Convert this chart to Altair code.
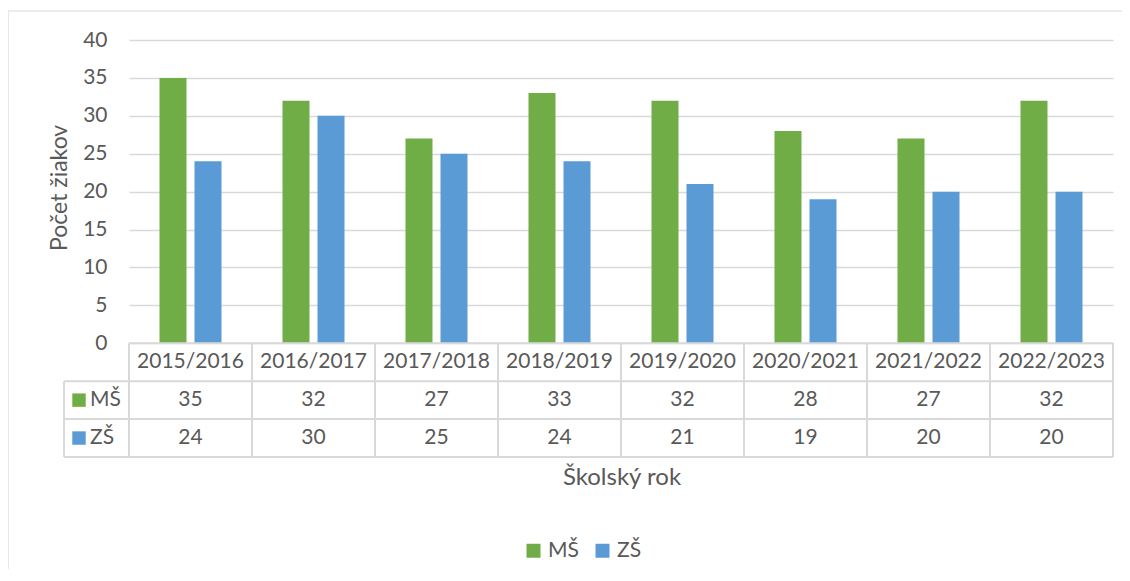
import altair as alt
import pandas as pd

years = ["2015/2016", "2016/2017", "2017/2018", "2018/2019",
         "2019/2020", "2020/2021", "2021/2022", "2022/2023"]
ms = [35, 32, 27, 33, 32, 28, 27, 32]
zs = [24, 30, 25, 24, 21, 19, 20, 20]
series = ["MŠ", "ZŠ"]
colors = ["#70AD47", "#5B9BD5"]
row_centers = [-7.5, -12.5]
y_ticks = [0, 5, 10, 15, 20, 25, 30, 35, 40]

rows = []
for i, yr in enumerate(years):
    rows.append({"year": yr, "series": "MŠ", "value": ms[i], "row": row_centers[0]})
    rows.append({"year": yr, "series": "ZŠ", "value": zs[i], "row": row_centers[1]})
df = pd.DataFrame(rows)
years_df = pd.DataFrame({"year": years})
series_df = pd.DataFrame({"series": series, "row": row_centers})
one = pd.DataFrame({"a": [0]})

W, H = 984, 417
TXT = "#595959"
GRID = "#D9D9D9"
FONT = "Lato"

xscale = alt.Scale(domain=years, paddingInner=0, paddingOuter=0)
yscale = alt.Scale(domain=[-15, 40], nice=False, zero=False)
cscale = alt.Scale(domain=series, range=colors)
yaxis = alt.Axis(values=y_ticks, grid=True, gridColor=GRID, gridWidth=1.5,
                 domain=False, ticks=False, labelPadding=22, labelFontSize=21,
                 labelColor=TXT, labelFont=FONT, title=None, orient="left")

def yd(v):
    return alt.YDatum(v, scale=yscale, axis=yaxis)

def y2d(v):
    return alt.Y2Datum(v)

def yf(f):
    return alt.Y(f, scale=yscale, axis=yaxis)

border = alt.Chart(one).mark_rect(fillOpacity=0, stroke=GRID, strokeWidth=1.2).encode(
    x=alt.value(-121), x2=alt.value(1100), y=alt.value(-29), y2=alt.value(700))

bars = alt.Chart(df).mark_bar().encode(
    x=alt.X("year:N", scale=xscale, axis=None, sort=years),
    xOffset=alt.XOffset("series:N", scale=alt.Scale(domain=series, paddingInner=0.2286, paddingOuter=0.871)),
    y=yf("value:Q"),
    y2=y2d(0),
    color=alt.Color("series:N", scale=cscale,
                    legend=alt.Legend(orient="none", legendX=394, legendY=500,
                                      direction="horizontal", title=None,
                                      symbolType="square", symbolSize=196,
                                      symbolStrokeWidth=0,
                                      labelFontSize=21, labelColor=TXT, labelFont=FONT,
                                      columnPadding=13)),
)

vl0 = alt.Chart(years_df).mark_rule(color=GRID, strokeWidth=2).encode(
    x=alt.X("year:N", scale=xscale, axis=None, bandPosition=0),
    y=yd(0), y2=y2d(-15))
vl1 = alt.Chart(years_df).mark_rule(color=GRID, strokeWidth=2).encode(
    x=alt.X("year:N", scale=xscale, axis=None, bandPosition=1),
    y=yd(0), y2=y2d(-15))

hl = [
    alt.Chart(one).mark_rule(color=GRID, strokeWidth=2).encode(
        x=alt.value(-65), x2=alt.value(W), y=yd(v))
    for v in (-5, -10, -15)
]
hl_top = alt.Chart(one).mark_rule(color=GRID, strokeWidth=2).encode(
    x=alt.value(0), x2=alt.value(W), y=yd(0))
vl_head = alt.Chart(one).mark_rule(color=GRID, strokeWidth=2).encode(
    x=alt.value(-65), y=yd(-5), y2=y2d(-15))

year_txt = alt.Chart(years_df).mark_text(fontSize=21, font=FONT, color=TXT, baseline="middle").encode(
    x=alt.X("year:N", scale=xscale, axis=None), y=yd(-2.5), text="year:N")

val_txt = alt.Chart(df).mark_text(fontSize=21, font=FONT, color=TXT, baseline="middle").encode(
    x=alt.X("year:N", scale=xscale, axis=None),
    y=yf("row:Q"), text="value:Q")

head_sq = alt.Chart(series_df).mark_square(size=180, opacity=1).encode(
    x=alt.value(-50), y=yf("row:Q"),
    color=alt.Color("series:N", scale=cscale))
head_txt = alt.Chart(series_df).mark_text(fontSize=21, font=FONT, color=TXT, align="left", baseline="middle").encode(
    x=alt.value(-39), y=yf("row:Q"), text="series:N")

ytitle = alt.Chart(one).mark_text(text="Počet žiakov", angle=270, fontSize=23, font=FONT, color=TXT, baseline="middle").encode(
    x=alt.value(-69), y=yd(20.5))
xtitle = alt.Chart(one).mark_text(text="Školský rok", fontSize=24, font=FONT, color=TXT, baseline="middle").encode(
    x=alt.value(493), y=alt.value(438))

chart = alt.layer(
    border, bars, *hl, hl_top, vl0, vl1, vl_head,
    year_txt, val_txt, head_sq, head_txt, ytitle, xtitle,
).properties(
    width=W, height=H,
    autosize=alt.AutoSizeParams(type="none"),
    padding={"left": 121, "top": 32, "right": 9, "bottom": 112},
).configure(
    background="white",
    view=alt.ViewConfig(strokeWidth=0, stroke="transparent"),
)

chart.save("out.html", embed_options={"renderer": "svg", "actions": False})
